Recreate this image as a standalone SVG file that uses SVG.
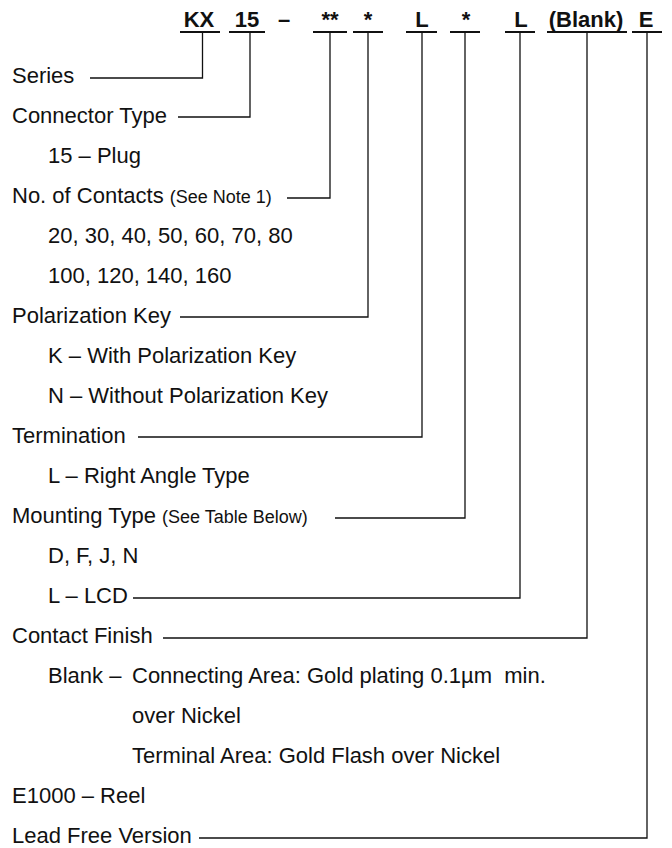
<svg xmlns="http://www.w3.org/2000/svg" width="672" height="848" viewBox="0 0 672 848">
<style>
text{font-family:"Liberation Sans",Arial,sans-serif;font-size:22px;fill:#111}
.code{font-weight:bold;text-anchor:middle}
.sm{font-size:18px}
.bar{stroke:#111;stroke-width:2.2;fill:none}
.ln{stroke:#111;stroke-width:1.3;fill:none}
</style>
<rect width="672" height="848" fill="#fff"/>
<g id="header">
<text class="code" x="199" y="27">KX</text>
<text class="code" x="247" y="27">15</text>
<text class="code" x="284" y="27">–</text>
<text class="code" x="330" y="27">**</text>
<text class="code" x="368" y="27">*</text>
<text class="code" x="422" y="27">L</text>
<text class="code" x="466" y="27">*</text>
<text class="code" x="521" y="27">L</text>
<text class="code" x="586" y="27">(Blank)</text>
<text class="code" x="646" y="27">E</text>
<path class="bar" d="M180 32H220M229 32H265M313 32H347M353 32H383M406 32H437M450 32H480M505 32H535M547 32H627M632 32H662"/>
</g>
<g id="connectors">
<path class="ln" d="M202.5 32V78H90"/>
<path class="ln" d="M250 32V117H178"/>
<path class="ln" d="M330 32V198H287"/>
<path class="ln" d="M368 32V317H180"/>
<path class="ln" d="M422 32V437H138"/>
<path class="ln" d="M465 32V518H335"/>
<path class="ln" d="M520 32V598H133"/>
<path class="ln" d="M587 32V638H163"/>
<path class="ln" d="M647 32V838H199"/>
</g>
<g id="series"><text x="12" y="83">Series</text></g>
<g id="connector-type"><text x="12" y="123">Connector Type</text><text x="48" y="163">15 – Plug</text></g>
<g id="contacts"><text x="12" y="203">No. of Contacts <tspan class="sm">(See Note 1)</tspan></text>
<text x="48" y="243">20, 30, 40, 50, 60, 70, 80</text>
<text x="48" y="283">100, 120, 140, 160</text></g>
<g id="polarization"><text x="12" y="323">Polarization Key</text>
<text x="48" y="363">K – With Polarization Key</text>
<text x="48" y="403">N – Without Polarization Key</text></g>
<g id="termination"><text x="12" y="443">Termination</text>
<text x="48" y="483">L – Right Angle Type</text></g>
<g id="mounting"><text x="12" y="523">Mounting Type <tspan class="sm">(See Table Below)</tspan></text>
<text x="48" y="563">D, F, J, N</text>
<text x="48" y="603">L – LCD</text></g>
<g id="finish"><text x="12" y="643">Contact Finish</text>
<text x="48" y="683">Blank –</text>
<text x="132" y="683" xml:space="preserve">Connecting Area: Gold plating 0.1µm  min.</text>
<text x="132" y="723">over Nickel</text>
<text x="132" y="763">Terminal Area: Gold Flash over Nickel</text></g>
<g id="packaging"><text x="12" y="803">E1000 – Reel</text></g>
<g id="lead-free"><text x="12" y="843">Lead Free Version</text></g>
</svg>
